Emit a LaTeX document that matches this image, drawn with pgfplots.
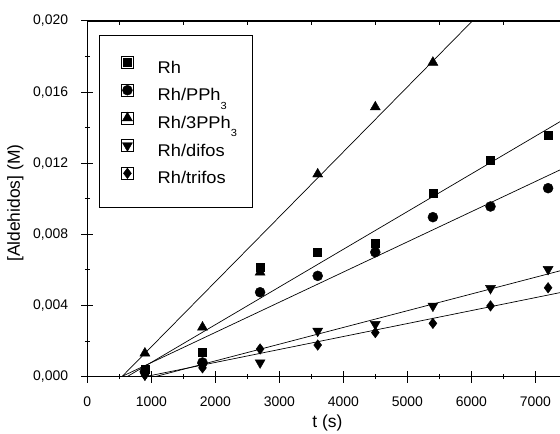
\documentclass[border=0pt]{standalone}
\usepackage{fontspec}
\setmainfont{Liberation Sans}
\newfontfamily\legfont[FakeStretch=1.08]{Liberation Sans}
\usepackage{pgfplots}
\pgfplotsset{compat=1.18}

\begin{document}
\begin{tikzpicture}
\begin{axis}[
  scale only axis, width=472.7bp, height=355.7bp,
  xmin=0, xmax=7386, ymin=0, ymax=0.020,
  axis x line*=bottom, axis y line*=left,
  axis line style={line width=1.2bp},
  every tick/.style={black, line width=1bp},
  tick align=center,
  major tick length=12bp, minor tick length=5bp,
  xtick={0,1000,...,7000}, minor x tick num=1,
  ytick={0,0.004,0.008,0.012,0.016,0.020}, minor y tick num=1,
  scaled y ticks=false,
  /pgf/number format/assume math mode=true,
  /pgf/number format/1000 sep={},
  tick label style={font=\fontsize{14}{16}\selectfont},
  yticklabel style={/pgf/number format/fixed, /pgf/number format/fixed zerofill,
    /pgf/number format/precision=3, /pgf/number format/use comma,
    anchor=east, inner sep=0pt, xshift=-13bp},
  xticklabel style={anchor=north, inner sep=0pt, yshift=-14bp},
  xlabel={t (s)}, ylabel={[Aldehidos] (M)},
  every axis x label/.style={at={(axis description cs:0.508,-0.130)}, anchor=center,
    font=\fontsize{17.5}{20}\selectfont},
  every axis y label/.style={at={(axis description cs:-0.1523,0.488)}, anchor=center, rotate=90,
    font=\fontsize{17.5}{20}\selectfont},
  legend cell align=left,
  legend image code/.code={\path (-6bp,0bp) rectangle (6bp,12bp); \draw[#1] plot coordinates {(0bp,6bp)};},
  legend style={draw=none, fill=none, at={(axis cs:527,0.018026)}, anchor=north west,
    inner sep=0pt, row sep=7bp, column sep=24bp,
    font=\legfont\fontsize{17}{19}\selectfont,
    nodes={inner sep=0pt, text height=13bp, text depth=4bp}},
]
% Rh
\addplot[only marks, black, mark=square*, mark size=4bp, mark options={fill=black}]
  coordinates {(900,0.0004)(1800,0.00135)(2700,0.00615)(3600,0.0070)(4500,0.0075)(5400,0.0103)(6300,0.0122)(7200,0.0136)};
\addlegendentry{Rh}
% Rh/PPh3
\addplot[only marks, black, mark=*, mark size=5bp, mark options={fill=black}]
  coordinates {(900,0.0003)(1800,0.0008)(2700,0.00475)(3600,0.00567)(4500,0.0070)(5400,0.00897)(6300,0.00957)(7200,0.0106)};
\addlegendentry{Rh/PPh\raisebox{-8.4bp}{\fontsize{10.3}{11}\selectfont 3}}
% Rh/3PPh3
\addplot[only marks, black, mark=triangle*, mark size=5.8bp, mark options={fill=black}]
  coordinates {(900,0.00132)(1800,0.00278)(2700,0.00587)(3600,0.01139)(4500,0.01516)(5400,0.01767)};
\addlegendentry{Rh/3PPh\raisebox{-8.4bp}{\fontsize{10.3}{11}\selectfont 3}}
% Rh/difos
\addplot[only marks, black, mark=triangle*, mark size=5.8bp, mark options={fill=black, rotate=180}]
  coordinates {(900,0.0001)(1800,0.0006)(2700,0.00079)(3600,0.00257)(4500,0.00295)(5400,0.00398)(6300,0.00497)(7200,0.00604)};
\addlegendentry{Rh/difos}
% Rh/trifos
\addplot[only marks, black, mark=diamond*, mark size=5.3bp, mark options={fill=black}]
  coordinates {(900,0.0001)(1800,0.0005)(2700,0.00156)(3600,0.00178)(4500,0.00248)(5400,0.0030)(6300,0.00398)(7200,0.0050)};
\addlegendentry{Rh/trifos}

% linear fits
\addplot[black, line width=0.7bp, forget plot] coordinates {(621,0)(7500,0.01458)};
\addplot[black, line width=0.7bp, forget plot] coordinates {(533,0)(7500,0.01182)};
\addplot[black, line width=0.7bp, forget plot] coordinates {(540,0)(6016,0.020)};
\addplot[black, line width=0.7bp, forget plot] coordinates {(1056,0)(7500,0.00606)};
\addplot[black, line width=0.7bp, forget plot] coordinates {(901,0)(7500,0.00481)};

\draw[line width=1bp] (axis cs:198,0.019168) rectangle (axis cs:2589,0.009491);
\coordinate (ll) at (rel axis cs:0,0);
\coordinate (ur) at (rel axis cs:1,1);
\end{axis}
\begin{axis}[
  scale only axis, width=472.7bp, height=355.7bp,
  xmin=0, xmax=7386, ymin=0, ymax=0.020,
  axis x line*=top, axis y line=none,
  axis line style={line width=1.2bp},
  every tick/.style={black, line width=1bp},
  xtick={500,1500,...,7500}, xticklabels={}, ytick=\empty,
  tick align=inside, major tick length=4bp,
]
\end{axis}
\pgfresetboundingbox
\path ([shift={(-87.3bp,-57.3bp)}]ll) rectangle ([shift={(0bp,21bp)}]ur);
\end{tikzpicture}
\end{document}
